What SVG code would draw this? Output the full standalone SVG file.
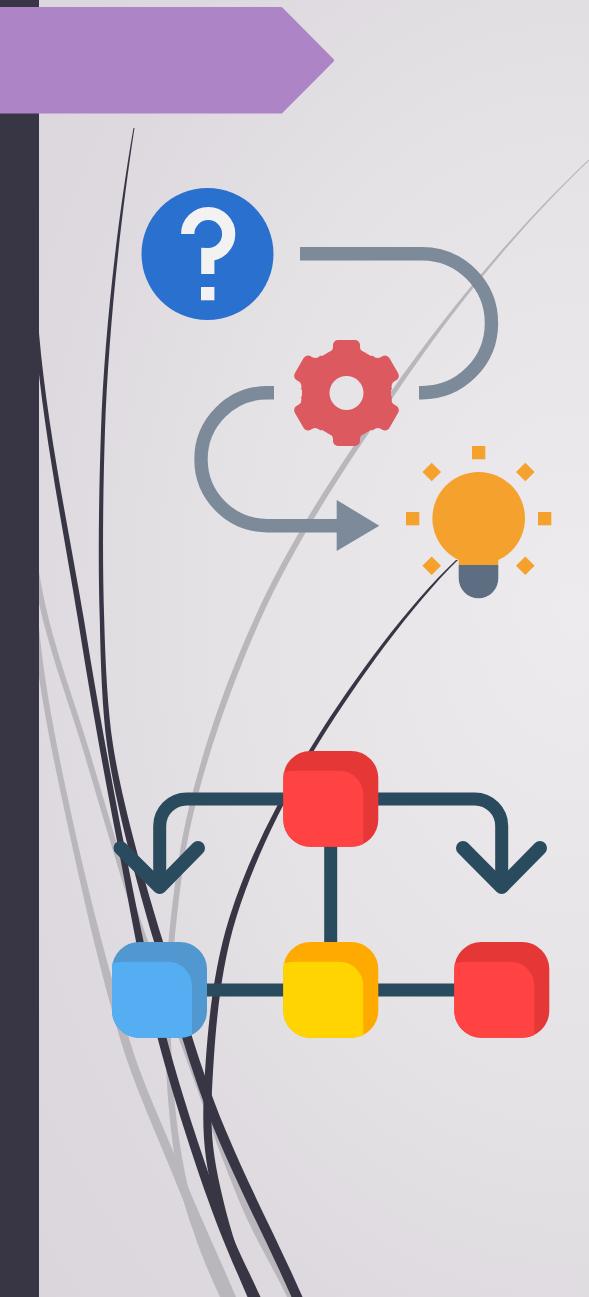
<svg xmlns="http://www.w3.org/2000/svg" width="589" height="1297" viewBox="0 0 589 1297">
<style>
.dark{fill:#383545}
.grey{fill:#B9B7BC}
.flow{fill:none;stroke:#7D8A9A;stroke-width:13.4}
.org{fill:none;stroke:#2A4A5E;stroke-width:13}
.arrow{fill:none;stroke:#2A4A5E;stroke-width:14;stroke-linecap:round;stroke-linejoin:round}
.sun{fill:#F4A12E}
.gear{fill:#DD5960}
</style>
<defs>
<radialGradient id="bg" gradientUnits="userSpaceOnUse" cx="0" cy="0" r="850" gradientTransform="translate(575,610) scale(1,1.4)">
<stop offset="0" stop-color="#EDEBEE"/>
<stop offset="0.42" stop-color="#E5E2E6"/>
<stop offset="0.65" stop-color="#DDD9DE"/>
<stop offset="0.85" stop-color="#DAD6DB"/>
<stop offset="1" stop-color="#D4D0D5"/>
</radialGradient>
<clipPath id="box"><rect width="95" height="95.7" rx="27"/></clipPath>
<path id="shade" d="M-1,21.5 Q5,19.7 12,19.7 H56 A24,24 0 0 1 80,43.7 V97 H-1Z"/>
<mask id="gearHole" maskUnits="userSpaceOnUse" x="280" y="330" width="130" height="125">
<rect x="280" y="330" width="130" height="125" fill="#fff"/>
<circle cx="346.5" cy="393" r="17" fill="#000"/>
</mask>
<path id="tooth" d="M-8.5,-53 H8.5 A5,5 0 0 1 13.5,-48 V-46 Q13.5,-41.5 19,-40 L19,-25 H-19 V-40 Q-13.5,-41.5 -13.5,-46 V-48 A5,5 0 0 1 -8.5,-53Z"/>
</defs>
<rect width="589" height="1297" fill="url(#bg)"/>
<g id="swooshes">
<path class="grey" d="M588.2,160 C519,225 448,310 390,393 C347,455 291.5,535 253.8,620 C226.5,680 194,770 180.2,850 C171,905 163,980 165,1040 C167,1110 174,1180 193,1230 C201,1255 210,1275 220,1297 L230,1297 C220,1275 211,1255 201,1230 C182,1180 173,1110 171,1040 C169,980 177,905 185.8,850 C200,770 233.5,680 260.2,620 C298.5,535 353.5,455 396,393 C452,310 521,225 589.8,160Z"/>
<path class="grey" d="M39,572 C50,640 73.2,696 90,753 C106.8,809.7 127.5,880.8 143,927 C154.7,962 171.5,995.5 184.5,1030 C205.5,1085.5 224,1142 246.5,1197 C264.8,1241.5 277,1263 293,1297 L287,1297 C271,1263 255.8,1241.5 237.5,1197 C214.9,1142 196.5,1085.5 175.5,1030 C162.5,995.5 148.7,962 137,927 C121.5,880.8 100.8,809.7 84,753 C67.2,696 44,640 33,572Z"/>
<path class="grey" d="M39,628 C45,690 57.8,751.7 71,813 C87.5,889.2 107.1,965.3 129.5,1040 C142.1,1082.2 161.4,1122.3 178,1163 C196.4,1208 218,1255 236,1297 L224,1297 C206,1255 186.4,1208 168,1163 C151.4,1122.3 133.1,1082.2 120.5,1040 C98.1,965.3 81.5,889.2 65,813 C51.8,751.7 39,690 33,628Z"/>
<path class="dark" d="M133.5,128 C116.5,225 104,340 101,430 C99,490 97.8,560 99.8,620 C100.6,665 102.3,710 107,745 C114.5,800 136,880 153.5,940 C171,1000 189.8,1070 214.5,1130 C239.5,1190 266.5,1240 291.5,1297 L302.5,1297 C277.5,1240 250.5,1190 225.5,1130 C200.2,1070 181,1000 162.5,940 C144,880 121.5,800 113,745 C107.7,710 105.4,665 104.2,620 C102.2,560 103,490 105,430 C108,340 119.5,225 134.5,128Z"/>
<path class="dark" d="M39,333 C47.3,430 70,536 84,620 C97.6,704 110,772 123.2,840 C136.4,908 148.7,970 164.5,1030 C179.8,1089.5 201,1152.5 217,1197 C232.7,1241.5 246,1265 260.5,1297 L247.5,1297 C234,1265 222.7,1241.5 207,1197 C191.3,1152.5 170.8,1089.5 155.5,1030 C140.2,970.5 130,908 116.8,840 C103.6,772 91.5,704 78,620 C64.5,536 42.7,430 35,333Z"/>
<path class="dark" d="M456,560 C408.5,604.5 353,680 315.6,740 C278,799.5 248,858.7 229.6,917 C211,975.3 206.5,1043.3 204,1090 C201.5,1136.7 205.5,1162.5 213.5,1197 C221.5,1231.5 238,1268 254,1297 L258,1297 C242,1268 230.5,1231.5 222.5,1197 C214.5,1162.5 209.5,1136.7 212,1090 C214.5,1043.3 218.2,975.3 236.4,917 C254.6,858.7 283.4,799.5 320.4,740 C357.6,680.5 411.5,605.5 458,560Z"/>
<rect x="0" y="0" width="39" height="1297" fill="#383545"/>
</g>
<path id="banner" d="M-5,9 H281 L332,60.3 L281,111.5 H-5Z" fill="#AD84C6" stroke="#AD84C6" stroke-width="4" stroke-linejoin="round"/>
<g id="connectors">
<path class="flow" d="M300,253.7 H422 A69.5,69.5 0 0 1 422,392.7 H419"/>
<path class="flow" d="M274,392.7 H267.5 A66.5,66.5 0 0 0 267.5,525.7 H340"/>
<polygon points="336.7,500 379.3,525.7 336.7,551" fill="#7D8A9A"/>
<path class="org" d="M283.5,799 H186.7 A27,27 0 0 0 159.7,826 V886"/>
<path class="arrow" d="M120.5,848 L159.7,887 L198,848"/>
<path class="org" d="M378,799 H474.7 A27,27 0 0 1 501.7,826 V886"/>
<path class="arrow" d="M463,848 L501.7,887 L540,848"/>
<path class="org" d="M330.7,846 V943"/>
<path class="org" d="M206,990 H455"/>
</g>
<g id="question">
<circle cx="207.5" cy="254" r="66" fill="#2A70CE"/>
<path d="M187.7,234 A20.5,20.5 0 1 1 207.8,254.5 V274" fill="none" stroke="#F2F2F2" stroke-width="13.2"/>
<rect x="201" y="287" width="13.4" height="13.3" fill="#F2F2F2"/>
</g>
<g id="gear-node" mask="url(#gearHole)">
<path class="gear" d="M346.5,342 L391,367.5 V418.5 L346.5,444 L302,418.5 V367.5Z"/>
<g transform="translate(346.5,393)" class="gear">
<use href="#tooth"/>
<use href="#tooth" transform="rotate(60) scale(1.03)"/>
<use href="#tooth" transform="rotate(120) scale(1.03)"/>
<use href="#tooth" transform="rotate(180)"/>
<use href="#tooth" transform="rotate(240) scale(1.03)"/>
<use href="#tooth" transform="rotate(300) scale(1.03)"/>
</g>
</g>
<g id="bulb">
<path d="M458.7,565 H498.3 V578.3 A19.8,20 0 0 1 458.7,578.3Z" fill="#5D6E82"/>
<path class="sun" d="M458.7,550 H498.3 V565 H458.7Z"/>
<circle class="sun" cx="478.7" cy="518.3" r="46.3"/>
<rect class="sun" x="472" y="446" width="13.3" height="13.3"/>
<rect class="sun" x="406" y="512" width="13.3" height="13.3"/>
<rect class="sun" x="538" y="512" width="13.3" height="13.3"/>
<polygon class="sun" points="431.7,462.7 441,472 431.7,481.3 422.4,472"/>
<polygon class="sun" points="525.3,462.7 534.6,472 525.3,481.3 516,472"/>
<polygon class="sun" points="431.7,556.4 441,565.7 431.7,575 422.4,565.7"/>
<polygon class="sun" points="525.3,556.4 534.6,565.7 525.3,575 516,565.7"/>
</g>
<g id="node-top" transform="translate(283.3,751)">
<rect width="95" height="95.7" rx="27" fill="#E63737"/>
<use href="#shade" fill="#FF4343" clip-path="url(#box)"/>
</g>
<g id="node-blue" transform="translate(112,942)">
<rect width="95" height="95.7" rx="27" fill="#5098CF"/>
<use href="#shade" fill="#55ADF2" clip-path="url(#box)"/>
</g>
<g id="node-yellow" transform="translate(283.3,942)">
<rect width="95" height="95.7" rx="27" fill="#FFAA00"/>
<use href="#shade" fill="#FFD400" clip-path="url(#box)"/>
</g>
<g id="node-red" transform="translate(454.3,942)">
<rect width="95" height="95.7" rx="27" fill="#E63737"/>
<use href="#shade" fill="#FF4343" clip-path="url(#box)"/>
</g>
</svg>
